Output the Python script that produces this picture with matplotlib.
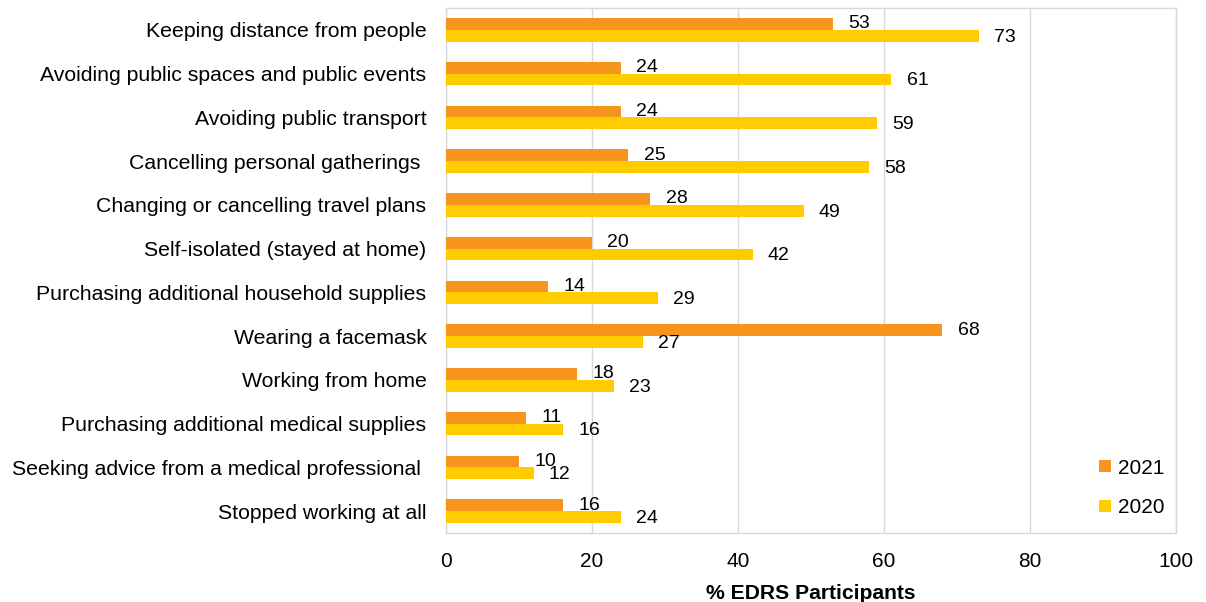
#!/usr/bin/env python

# Imports
import matplotlib
matplotlib.use("Agg")
import matplotlib.pyplot as plt
import numpy as np

# Data
categories = [
    "Keeping distance from people",
    "Avoiding public spaces and public events",
    "Avoiding public transport",
    "Cancelling personal gatherings ",
    "Changing or cancelling travel plans",
    "Self-isolated (stayed at home)",
    "Purchasing additional household supplies",
    "Wearing a facemask",
    "Working from home",
    "Purchasing additional medical supplies",
    "Seeking advice from a medical professional ",
    "Stopped working at all",
]
values_2021 = [53, 24, 24, 25, 28, 20, 14, 68, 18, 11, 10, 16]
values_2020 = [73, 61, 59, 58, 49, 42, 29, 27, 23, 16, 12, 24]
x_ticks = [0, 20, 40, 60, 80, 100]

color_2021 = "#F7941D"
color_2020 = "#FFCC00"
grid_color = "#D9D9D9"

plt.rcParams["font.family"] = ["Liberation Sans", "DejaVu Sans"]


def main():
    fig = plt.figure(figsize=(12.06, 6.02), dpi=100)
    ax = fig.add_axes([0.3698, 0.1146, 0.6053, 0.8721])

    y = np.arange(len(categories))
    h = 0.27

    # Bars
    b21 = ax.barh(y - h / 2, values_2021, height=h, color=color_2021, label="2021", zorder=3)
    b20 = ax.barh(y + h / 2, values_2020, height=h, color=color_2020, label="2020", zorder=3)

    # Value labels
    for rects, vals, dy in [(b21, values_2021, -0.0), (b20, values_2020, 0.03)]:
        for r, v in zip(rects, vals):
            ax.annotate(str(v), (v, r.get_y() + r.get_height() / 2 + dy),
                        xytext=(11, 0), textcoords="offset points",
                        ha="left", va="center", fontsize=14, color="black")

    # Axes setup
    ax.set_xlim(0, 100)
    ax.set_ylim(len(categories) - 0.5, -0.5)
    ax.set_xticks(x_ticks)
    ax.set_yticks(y)
    ax.set_yticklabels(categories, fontsize=15.3)
    ax.tick_params(axis="x", labelsize=15, length=0, pad=14)
    ax.tick_params(axis="y", length=0, pad=14)
    ax.xaxis.grid(True, color=grid_color, linewidth=1, zorder=0)
    for s in ax.spines.values():
        s.set_color(grid_color)
        s.set_linewidth(1)

    ax.set_xlabel("% EDRS Participants", fontsize=15.2, fontweight="bold", labelpad=9)

    # Legend
    ax.legend(loc="lower right", bbox_to_anchor=(1.01, -0.006), frameon=False,
              fontsize=15, handlelength=0.55, handleheight=0.55,
              handletextpad=0.35, labelspacing=1.0, borderaxespad=0.5)

    fig.savefig("out.png", dpi=100)


if __name__ == '__main__':
    main()
